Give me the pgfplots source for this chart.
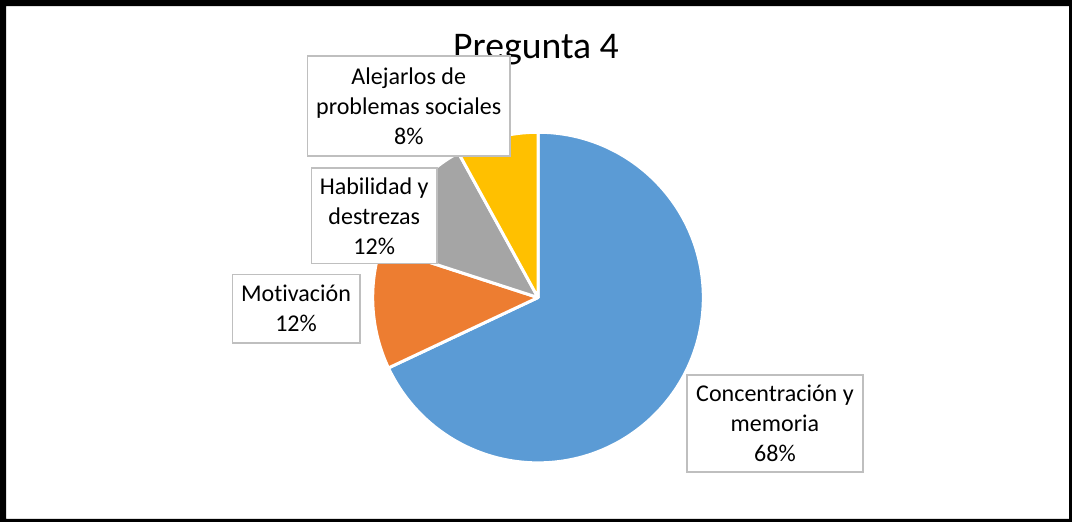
\documentclass[border=0pt]{standalone}
\usepackage{pgfplots}
\usepackage{pgfplotstable}
\pgfplotsset{compat=1.18}
\usepackage{fontspec}
\setmainfont{Carlito}[Ligatures=NoCommon]
\definecolor{cA}{HTML}{5B9BD5}
\definecolor{cB}{HTML}{ED7D31}
\definecolor{cC}{HTML}{A5A5A5}
\definecolor{cD}{HTML}{FFC000}
\definecolor{cBorder}{HTML}{BFBFBF}

\pgfplotstableread{
label value
Concentracion 68
Motivacion 12
Habilidad 12
Alejarlos 8
}\piedata

\begin{document}%
\begin{tikzpicture}
\pgfplotstablegetelem{0}{value}\of\piedata \global\let\vA\pgfplotsretval
\pgfplotstablegetelem{1}{value}\of\piedata \global\let\vB\pgfplotsretval
\pgfplotstablegetelem{2}{value}\of\piedata \global\let\vC\pgfplotsretval
\pgfplotstablegetelem{3}{value}\of\piedata \global\let\vD\pgfplotsretval
\pgfmathsetmacro\aA{90}
\pgfmathsetmacro\aB{\aA-3.6*\vA}
\pgfmathsetmacro\aC{\aB-3.6*\vB}
\pgfmathsetmacro\aD{\aC-3.6*\vC}
\pgfmathsetmacro\aE{\aD-3.6*\vD}
\begin{axis}[hide axis, scale only axis, width=536pt, height=261.5pt,
  xmin=-538, xmax=534, ymin=-225, ymax=298, clip=false]
% frame
\fill[black, even odd rule] (axis cs:-537,297) rectangle (axis cs:533,-224)
  (axis cs:-531,291) rectangle (axis cs:530,-221);
% slices
\filldraw[fill=cA, draw=white, line width=1.5pt, line join=round] (axis cs:0,0) -- (axis cs:{165*cos(\aA)},{165*sin(\aA)}) arc[start angle=\aA, end angle=\aB, radius=82.5pt] -- cycle;
\filldraw[fill=cB, draw=white, line width=1.5pt, line join=round] (axis cs:0,0) -- (axis cs:{165*cos(\aB)},{165*sin(\aB)}) arc[start angle=\aB, end angle=\aC, radius=82.5pt] -- cycle;
\filldraw[fill=cC, draw=white, line width=1.5pt, line join=round] (axis cs:0,0) -- (axis cs:{165*cos(\aC)},{165*sin(\aC)}) arc[start angle=\aC, end angle=\aD, radius=82.5pt] -- cycle;
\filldraw[fill=cD, draw=white, line width=1.5pt, line join=round] (axis cs:0,0) -- (axis cs:{165*cos(\aD)},{165*sin(\aD)}) arc[start angle=\aD, end angle=\aE, radius=82.5pt] -- cycle;
% title
\node[anchor=base, font=\fontsize{18.8}{22}\selectfont] at (axis cs:-2,239) {Pregunta 4};
% labels
\tikzset{lbl/.style={draw=cBorder, line width=0.9pt, fill=white, align=center,
  font=\fontsize{12}{15}\selectfont, inner sep=0pt}}
\node[lbl, minimum width=101pt, minimum height=50pt] at (axis cs:-129,191) {Alejarlos de\\problemas sociales\\\vD\%};
\node[lbl, minimum width=62.5pt, minimum height=47.5pt] at (axis cs:-163.5,81.5) {Habilidad y\\destrezas\\\vC\%};
\node[lbl, minimum width=63.5pt, minimum height=34pt] at (axis cs:-241.5,-11) {Motivación\\\vB\%};
\node[lbl, minimum width=87.5pt, minimum height=48.5pt] at (axis cs:236.5,-125.5) {Concentración y\\memoria\\\vA\%};
\end{axis}
\end{tikzpicture}%
\end{document}
